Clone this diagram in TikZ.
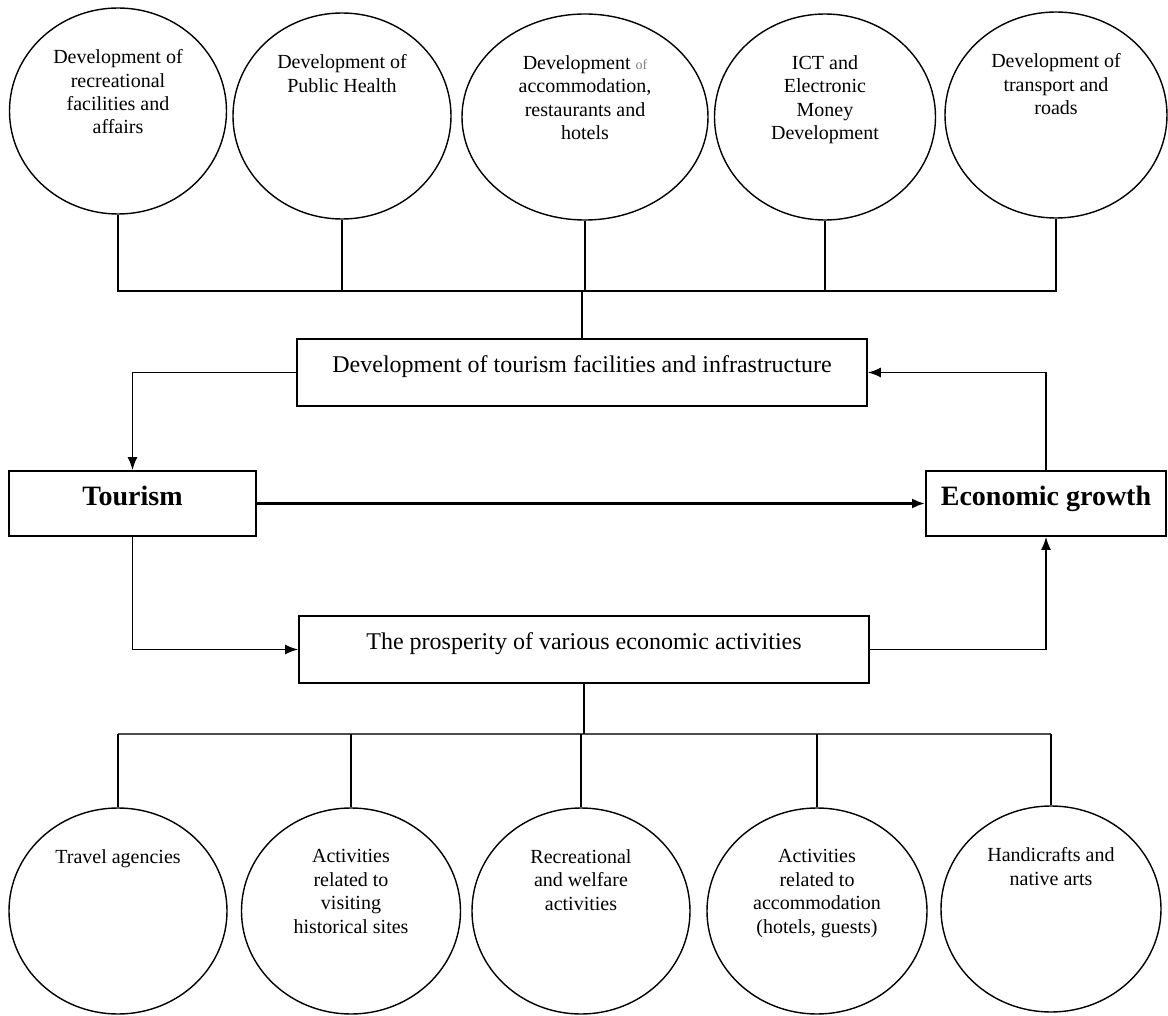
\documentclass[tikz,border=0pt]{standalone}
\usepackage{fontspec}
\setmainfont{Liberation Serif}
\usetikzlibrary{positioning,calc,shapes.geometric,arrows.meta}

\begin{document}
\begin{tikzpicture}[x=0.5pt,y=-0.5pt,
		oval/.style={draw=black,ellipse,line width=0.7pt,inner sep=0pt,minimum height=103pt},
		ovaltext/.style={anchor=north,align=center,inner sep=0pt,yshift=-21pt,font=\fontsize{10}{11.7}\selectfont},
		box/.style={draw=black,line width=0.9pt,inner sep=0pt,minimum height=33.5pt,minimum width=285pt,text height=8pt,text depth=8.5pt,font=\fontsize{12}{14}\selectfont},
		mainbox/.style={draw=black,line width=0.9pt,inner sep=0pt,minimum height=32.5pt,text height=9.3pt,text depth=7.4pt,font=\fontsize{14}{16}\selectfont\bfseries},
		link/.style={line width=0.7pt},
		arr/.style={-{Latex[length=6.5pt,width=5pt]},line width=0.7pt}]

		\useasboundingbox (0,0) rectangle (1168,1016);

		\node[oval,minimum width=108.5pt,label={[ovaltext]north:{Development of\\recreational\\facilities and\\affairs}}] (recr) at (118,111) {};
		\node[oval,minimum width=109pt,label={[ovaltext]north:{Development of\\Public Health}}] (health) at (342,116) {};
		\node[oval,minimum width=123pt,label={[ovaltext]north:{Development {\color{gray}\scriptsize of}\\accommodation,\\restaurants and\\hotels}}] (accom) at (585,117) {};
		\node[oval,minimum width=110.5pt,label={[ovaltext]north:{ICT and\\Electronic\\Money\\Development}}] (ict) at (825,117) {};
		\node[oval,minimum width=111pt,label={[ovaltext]north:{Development of\\transport and\\roads}}] (road) at (1056,115) {};

		\node[box] (infra) at (582,372.5) {Development of tourism facilities and infrastructure};
		\node[mainbox,minimum width=123.5pt] (tour) at (132.5,503.5) {Tourism};
		\node[mainbox,minimum width=120pt] (econ) at (1046,503.5) {Economic growth};
		\node[box] (prosp) at (584,649.5) {The prosperity of various economic activities};

		\node[oval,minimum width=109pt,label={[ovaltext]north:{Travel agencies}}] (travel) at (118,911) {};
		\node[oval,minimum width=109.5pt,label={[ovaltext]north:{Activities\\related to\\visiting\\historical sites}}] (hist) at (351,911) {};
		\node[oval,minimum width=109pt,label={[ovaltext]north:{Recreational\\and welfare\\activities}}] (welfare) at (581,911) {};
		\node[oval,minimum width=110pt,label={[ovaltext]north:{Activities\\related to\\accommodation\\(hotels, guests)}}] (lodging) at (817,911) {};
		\node[oval,minimum width=110pt,label={[ovaltext]north:{Handicrafts and\\native arts}}] (craft) at (1051,909) {};

		\coordinate (topbus) at (0,291);
		\coordinate (botbus) at (0,734);

		\draw[link] (recr.south) -- (recr.south |- topbus) -- (road.south |- topbus) -- (road.south);
		\foreach \n in {health,accom,ict}
			\draw[link] (\n.south) -- (\n.south |- topbus);
		\draw[link] (infra.north |- topbus) -- (infra.north);

		\draw[link,line width=1.2pt,black!70] (travel.north |- botbus) -- (craft.north |- botbus);
		\draw[link] (travel.north) -- (travel.north |- botbus);
		\draw[link] (craft.north) -- (craft.north |- botbus);
		\foreach \n in {hist,welfare,lodging}
			\draw[link] (\n.north) -- (\n.north |- botbus);
		\draw[link] (prosp.south) -- (prosp.south |- botbus);

		\draw[arr] (infra.west) -| (tour.north);
		\draw[arr] (econ.north) |- (infra.east);
		\draw[arr] (tour.south) |- (prosp.west);
		\draw[arr] (prosp.east) -| (econ.south);
		\draw[arr,line width=1.3pt] (tour.east) -- (econ.west);
	\end{tikzpicture}
\end{document}
